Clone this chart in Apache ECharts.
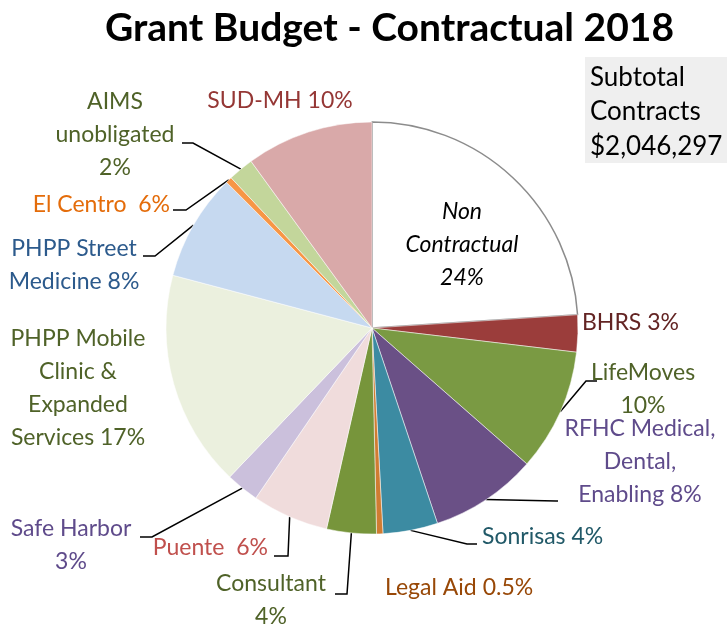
<!DOCTYPE html>
<html>
<head>
<meta charset="utf-8">
<script src="https://cdn.jsdelivr.net/npm/echarts@6/dist/echarts.min.js"></script>
<style>
  html, body { margin: 0; padding: 0; background: #fff; }
  #main { width: 727px; height: 626px; }
</style>
</head>
<body>
<div id="main"></div>
<script>
// slices, clockwise from 12 o'clock
var names = ['Non Contractual', 'BHRS', 'LifeMoves', 'RFHC Medical, Dental, Enabling', 'Sonrisas',
  'Legal Aid', 'Consultant', 'Puente', 'Safe Harbor', 'PHPP Mobile Clinic & Expanded Services',
  'PHPP Street Medicine', 'El Centro', 'AIMS unobligated', 'SUD-MH'];
var shares = [24, 2.9, 9.6, 8.4, 4.3, 0.5, 3.9, 6, 2.6, 17, 8.4, 0.5, 2, 10];
var labelTexts = ['Non\nContractual\n24%', 'BHRS 3%', 'LifeMoves\n10%', 'RFHC Medical,\nDental,\nEnabling 8%',
  'Sonrisas 4%', 'Legal Aid 0.5%', 'Consultant\n4%', 'Puente  6%', 'Safe Harbor\n3%',
  'PHPP Mobile\nClinic &\nExpanded\nServices 17%', 'PHPP Street\nMedicine 8%', 'El Centro  6%',
  'AIMS\nunobligated\n2%', 'SUD-MH 10%'];
var subtotalLines = ['Subtotal', 'Contracts', '$2,046,297'];

var sliceColors = ['#ffffff', '#9b3d3b', '#7a9a43', '#6a5086', '#3c8ba2', '#d07c32', '#77953b',
  '#f0dcdc', '#cbc0dc', '#ebf0de', '#c6d9f0', '#f79646', '#c3d69b', '#d9a9a9'];
var labelColors = ['#000000', '#632423', '#4f6228', '#5f4b8b', '#215968', '#984807', '#4f6228',
  '#c0504d', '#5f4b8b', '#4f6228', '#2c5a8c', '#e46c0a', '#4f6228', '#953735'];

// label placement: x, y, align, and optional leader [elbowX, endX, lineY]
var labelPlace = [
  { x: 462, y: 245, align: 'center' },
  { x: 582, y: 323, align: 'left' },
  { x: 643, y: 389, align: 'center', lead: [586, 597, 381] },
  { x: 640, y: 462, align: 'center', lead: [556, 558, 501] },
  { x: 482, y: 537, align: 'left', lead: [467, 477, 544] },
  { x: 385, y: 588, align: 'left' },
  { x: 271, y: 600, align: 'center', lead: [347, 335, 594] },
  { x: 268, y: 548, align: 'right', lead: [288, 274, 556] },
  { x: 71, y: 545, align: 'center', lead: [152, 140, 537] },
  { x: 78, y: 388, align: 'center' },
  { x: 74, y: 265, align: 'center', lead: [155, 143, 256] },
  { x: 170, y: 205, align: 'right', lead: [186, 173, 210] },
  { x: 115, y: 135, align: 'center', lead: [193, 182, 143] },
  { x: 280, y: 101, align: 'center' }
];

var pieData = names.map(function (n, i) {
  var item = {
    name: n,
    value: shares[i],
    itemStyle: { color: sliceColors[i] },
    label: { color: labelColors[i] },
    labelLine: { show: !!labelPlace[i].lead }
  };
  if (i === 0) {
    item.itemStyle.borderColor = '#8c8c8c';
    item.itemStyle.borderWidth = 1.5;
    item.label.fontStyle = 'italic';
  }
  return item;
});

var chart = echarts.init(document.getElementById('main'));
chart.setOption({
  backgroundColor: '#ffffff',
  animation: false,
  title: {
    text: 'Grant Budget - Contractual 2018',
    left: 100,
    top: 4,
    textStyle: { fontFamily: 'Lato', fontSize: 39, fontWeight: 'bold', color: '#000' }
  },
  graphic: [
    {
      type: 'rect',
      shape: { x: 585, y: 57, width: 142, height: 106 },
      style: { fill: '#efefef' },
      z: 1
    },
    {
      type: 'text',
      x: 590,
      y: 60,
      style: {
        text: subtotalLines.join('\n'),
        font: '26px Lato',
        lineHeight: 34.5,
        fill: '#000'
      },
      z: 2
    }
  ],
  series: [{
    type: 'pie',
    center: [372, 328],
    radius: 206,
    startAngle: 90,
    clockwise: true,
    avoidLabelOverlap: false,
    itemStyle: { borderColor: '#ffffff', borderWidth: 0.5 },
    label: {
      show: true,
      position: 'outside',
      fontFamily: 'Lato',
      fontSize: 23,
      lineHeight: 33,
      formatter: function (p) { return labelTexts[p.dataIndex]; }
    },
    labelLine: {
      show: true,
      length: 10,
      length2: 10,
      lineStyle: { color: '#000', width: 1.5 }
    },
    labelLayout: function (params) {
      var pl = labelPlace[params.dataIndex];
      var out = { x: pl.x, y: pl.y, align: pl.align, verticalAlign: 'middle' };
      if (pl.lead && params.labelLinePoints) {
        var start = params.labelLinePoints[0];
        out.labelLinePoints = [start, [pl.lead[0], pl.lead[2]], [pl.lead[1], pl.lead[2]]];
      }
      return out;
    },
    data: pieData
  }]
});
</script>
</body>
</html>
